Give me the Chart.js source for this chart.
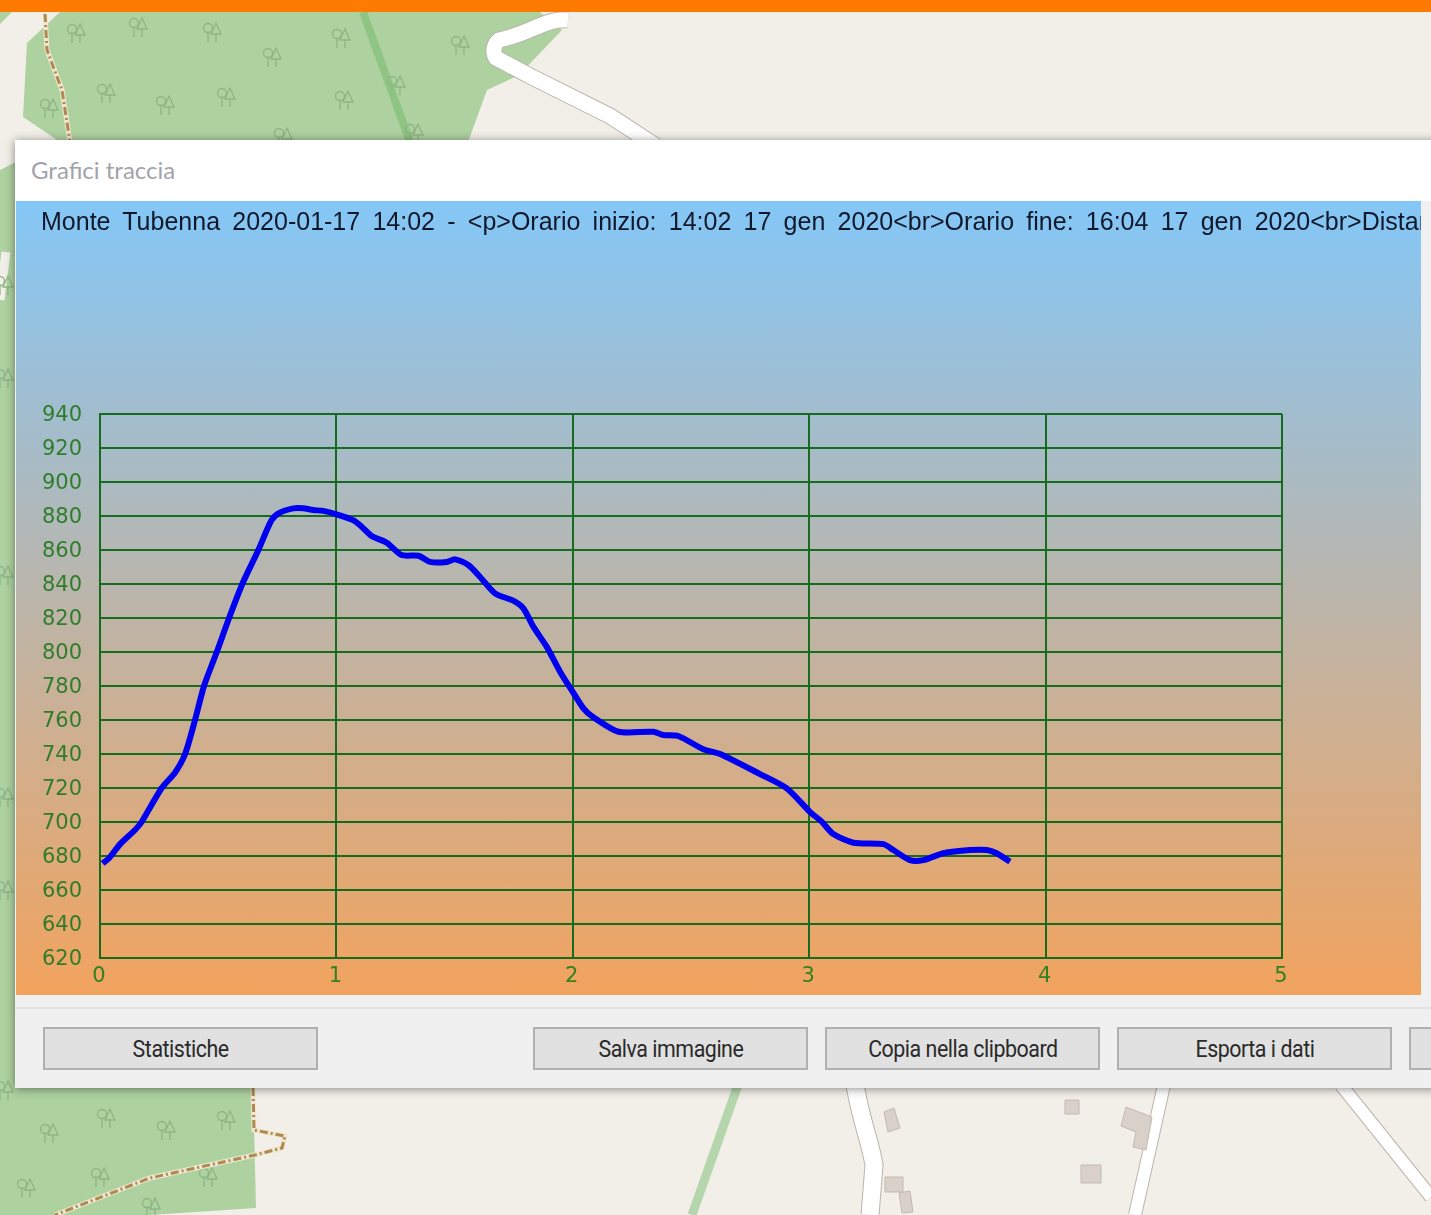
<!DOCTYPE html>
<html lang="it">
<head>
<meta charset="utf-8">
<title>Grafici traccia</title>
<script src="https://cdn.jsdelivr.net/npm/chart.js@4"></script>
<style>
  html, body { margin: 0; padding: 0; }
  body { width: 1431px; height: 1215px; position: relative; overflow: hidden; background: #f2efe9; }
  #map { position: absolute; left: 0; top: 0; }
  #topbar { position: absolute; left: 0; top: 0; width: 1431px; height: 12px; background: #ff7a00; }
  #win { position: absolute; left: 15px; top: 140px; width: 1430px; height: 948px; background: #f0f0f0; box-shadow: 0 1px 9px rgba(0,0,0,.45); }
  #caption { position: absolute; left: 0; top: 0; width: 100%; height: 61px; background: #fff; }
  #caption span { position: absolute; left: 16px; top: 15px; font: 24px/30px Lato, sans-serif; color: #a3a3aa; }
  #plot { position: absolute; left: 1px; top: 61px; width: 1405px; height: 794px; overflow: hidden;
          background: linear-gradient(#84c7f7 0%, #f2a35e 100%); }
  #plot canvas { position: absolute; left: 0; top: 0; }
  #head { position: absolute; left: 25px; top: 5px; white-space: nowrap; font: 25px/30px "Liberation Sans", Arial, sans-serif; word-spacing: 5.3px; color: #10182a; }
  #sep { position: absolute; left: 0; top: 867px; width: 100%; height: 2px; background: #e2e2e2; }
  .btn { position: absolute; top: 887px; width: 271px; height: 39px; border: 2px solid #b0b0b0; background: #e1e1e1;
         font: 23px/41px Roboto, sans-serif; letter-spacing: -.5px; color: #2a2a2a; text-align: center; }
  .btn span { display: inline-block; transform: scaleX(.93); }
</style>
</head>
<body>
<svg id="map" width="1431" height="1215" viewBox="0 0 1431 1215"></svg>
<div id="topbar"></div>
<div id="win">
  <div id="caption"><span>Grafici traccia</span></div>
  <div id="plot">
    <canvas id="chart-track" width="1405" height="794"></canvas>
    <div id="head"></div>
  </div>
  <div id="sep"></div>
  <div class="btn" style="left:28px"><span>Statistiche</span></div>
  <div class="btn" style="left:518px"><span>Salva immagine</span></div>
  <div class="btn" style="left:810px"><span>Copia nella clipboard</span></div>
  <div class="btn" style="left:1102px"><span>Esporta i dati</span></div>
  <div class="btn" style="left:1394px"></div>
</div>
<script>
// Profilo altimetrico
const distanceKm = [0.011, 0.04, 0.085, 0.148, 0.176, 0.261, 0.317, 0.36, 0.402, 0.44, 0.494, 0.546, 0.602, 0.67, 0.726, 0.761, 0.818, 0.86, 0.902, 0.945, 1.001, 1.071, 1.107, 1.149, 1.213, 1.276, 1.347, 1.396, 1.467, 1.502, 1.558, 1.607, 1.671, 1.748, 1.791, 1.833, 1.89, 1.946, 1.995, 2.045, 2.087, 2.193, 2.341, 2.383, 2.446, 2.552, 2.623, 2.792, 2.905, 3.003, 3.053, 3.102, 3.187, 3.314, 3.356, 3.426, 3.483, 3.567, 3.68, 3.751, 3.793, 3.849];
const elevationM = [675.7, 679, 687, 695.3, 700, 720, 729, 740, 760, 780, 800, 820, 840, 860, 877.6, 882, 884.5, 884.5, 883.5, 883, 881, 877.6, 873.7, 868.2, 864.3, 857, 856.6, 853, 853, 854.5, 851.2, 844.3, 834.5, 830.2, 825.7, 814.9, 803, 788.4, 777.6, 766.9, 761.6, 753.1, 753.1, 751.2, 750.6, 742.8, 740, 728.2, 719.8, 706, 700.2, 692.9, 687.8, 687, 683.5, 677.6, 677.6, 681.6, 683.5, 683.5, 681.6, 676.6];
const xRange = [0, 5];
const yRange = [620, 940];
const headText = "Monte Tubenna 2020-01-17 14:02 - <p>Orario inizio: 14:02 17 gen 2020<br>Orario fine: 16:04 17 gen 2020<br>Distanza";

document.getElementById("head").textContent = headText;

const GREEN = "#176b1f";

new Chart(document.getElementById("chart-track").getContext("2d"), {
    type: "line",
    data: {
        datasets: [{
            data: distanceKm.map((km, i) => ({ x: km, y: elevationM[i] })),
            borderColor: "#0000ee",
            borderWidth: 6,
            pointRadius: 0,
            tension: 0.25,
            fill: false
        }]
    },
    options: {
        responsive: false,
        animation: false,
        layout: { autoPadding: false, padding: { left: 0, top: 213, right: 139, bottom: 0 } },
        plugins: { legend: { display: false }, title: { display: false }, tooltip: { enabled: false } },
        scales: {
            x: {
                type: "linear",
                min: xRange[0],
                max: xRange[1],
                afterFit: scale => { scale.height = 37; },
                border: { color: GREEN, width: 2 },
                grid: { color: GREEN, lineWidth: 2, drawTicks: false },
                ticks: {
                    stepSize: 1,
                    padding: 6,
                    labelOffset: -1,
                    maxRotation: 0,
                    color: "#33801f",
                    font: { family: "DejaVu Sans", size: 21 }
                }
            },
            y: {
                min: yRange[0],
                max: yRange[1],
                afterFit: scale => { scale.width = 84; },
                border: { color: GREEN, width: 2 },
                grid: { color: GREEN, lineWidth: 2, drawTicks: false },
                ticks: {
                    stepSize: 20,
                    padding: 18,
                    labelOffset: 2,
                    color: "#2f7d2a",
                    font: { family: "DejaVu Sans", size: 21 }
                }
            }
        }
    }
});

// Sfondo mappa (solo decorazione)
const treeSpots = [[77,33],[139,27],[213,32],[342,38],[273,57],[461,45],[107,93],[166,105],[227,97],[345,100],[397,85],[50,108],[284,137],[415,133],
    [50,1133],[107,1118],[167,1130],[227,1120],[27,1188],[101,1177],[209,1177],[152,1207],[5,285],[5,378],[5,575],[5,797],[5,890],[5,1090]];
const houses = ["884,1112 894,1108 900,1128 888,1132", "1065,1100 1079,1100 1079,1114 1065,1114",
    "1126,1107 1152,1117 1146,1150 1133,1147 1136,1132 1121,1126", "1081,1165 1101,1165 1101,1183 1081,1183",
    "885,1177 903,1177 903,1192 885,1192", "899,1193 910,1191 913,1212 902,1213"];
const trees = treeSpots.map(([x, y]) => `<g transform="translate(${x} ${y})" fill="none" stroke="#8db584" stroke-width="1.3">
    <circle cx="-5" cy="-4" r="4.5"/><path d="M-5 0V10M3 -9L8 2H-2ZM3 2V10"/></g>`).join("");
const road = (d, w) => `<path d="${d}" fill="none" stroke="#b9b5ad" stroke-width="${w + 2}"/><path d="${d}" fill="none" stroke="#fff" stroke-width="${w}"/>`;
const track = d => `<path d="${d}" fill="none" stroke="#efe6d2" stroke-width="5"/><path d="${d}" fill="none" stroke="#ae8a4e" stroke-width="3" stroke-dasharray="8 3 2 3"/>`;
document.getElementById("map").innerHTML = `
    <g fill="#aed1a0">
      <polygon points="27,43 60,12 540,12 562,30 519,75 487,90 468,142 60,142 23,117"/>
      <polygon points="0,12 12,12 0,24"/>
      <polygon points="0,170 20,160 20,1090 0,1090"/>
      <polygon points="0,1085 253,1085 256,1208 150,1215 0,1215"/>
    </g>
    <path d="M0 300L6 252" stroke="#f2efe9" stroke-width="9" fill="none"/>
    <path d="M363 12L410 142" stroke="#8fc583" stroke-width="8" fill="none"/>
    <path d="M738 1085L692 1215" stroke="#b5d6ac" stroke-width="9" fill="none"/>
    ${trees}
    ${road("M568 20C545 18 530 34 499 40C494 44 492 52 496 58L530 76L610 116L656 146", 15)}
    ${road("M855 1085C862 1125 870 1140 874 1165L870 1215", 17)}
    ${road("M1164 1085L1135 1215", 12)}
    ${road("M1341 1085L1431 1197", 12)}
    ${track("M45 14L47 50L62 90L70 142")}
    ${track("M253 1088L254 1130L285 1136L282 1148L255 1155L150 1178L55 1215")}
    <g fill="#d9d0c9" stroke="#c4b9ae">${houses.map(p => `<polygon points="${p}"/>`).join("")}</g>`;
</script>
</body>
</html>
